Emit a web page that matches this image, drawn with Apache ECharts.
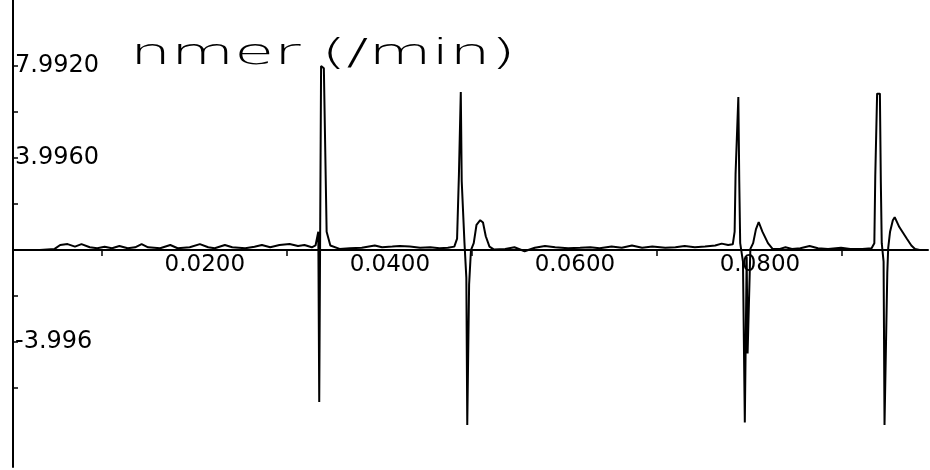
<!DOCTYPE html>
<html>
<head>
<meta charset="utf-8">
<script src="https://cdn.jsdelivr.net/npm/echarts@6/dist/echarts.min.js"></script>
<style>
  html, body { margin: 0; padding: 0; background: #fff; }
  #chart { width: 930px; height: 470px; }
</style>
</head>
<body>
<div id="chart"></div>
<script>
// Trace samples: time (s) and amplitude
const timeS = [
  -0.0096, -0.0067, -0.0051, -0.0045, -0.0037, -0.0029, -0.0022, -0.0013, -0.0005, 0.0003,
  0.0011, 0.0019, 0.0028, 0.0036, 0.0043, 0.0050, 0.0063, 0.0074, 0.0082, 0.0095,
  0.0106, 0.0115, 0.0122, 0.0133, 0.0141, 0.0155, 0.0165, 0.0173, 0.0182, 0.0192,
  0.0203, 0.0212, 0.0219, 0.0227, 0.0231,
  0.0234, 0.0235, 0.0237, 0.0240, 0.0243, 0.0247,
  0.0257, 0.0268, 0.0281, 0.0295, 0.0303, 0.0314, 0.0322, 0.0333, 0.0344, 0.0355,
  0.0365, 0.0374, 0.0381,
  0.0384, 0.0386, 0.0388, 0.0389, 0.0392, 0.0394, 0.0395, 0.0397, 0.0399, 0.0402,
  0.0405, 0.0409, 0.0412, 0.0415, 0.0419, 0.0424,
  0.0436, 0.0446, 0.0457, 0.0468, 0.0479, 0.0490, 0.0504, 0.0517, 0.0528, 0.0538,
  0.0551, 0.0562, 0.0573, 0.0584, 0.0595, 0.0609, 0.0620, 0.0630, 0.0641, 0.0652,
  0.0663, 0.0670, 0.0677, 0.0682,
  0.0684, 0.0685, 0.0688, 0.0689, 0.0690, 0.0693, 0.0695, 0.0697, 0.0698, 0.0701,
  0.0704, 0.0707, 0.0710, 0.0714, 0.0720, 0.0725,
  0.0733, 0.0739, 0.0746, 0.0755, 0.0765, 0.0774, 0.0785, 0.0799, 0.0809, 0.0822,
  0.0832,
  0.0835, 0.0836, 0.0838, 0.0841, 0.0842, 0.0843, 0.0845, 0.0846, 0.0849, 0.0850,
  0.0852, 0.0855, 0.0857, 0.0862, 0.0866, 0.0870, 0.0875, 0.0879, 0.0884, 0.0892
];
const amplitude = [
  0.00, 0.00, 0.05, 0.22, 0.26, 0.15, 0.26, 0.12, 0.08, 0.14,
  0.08, 0.18, 0.08, 0.12, 0.26, 0.12, 0.08, 0.22, 0.08, 0.12,
  0.26, 0.12, 0.08, 0.22, 0.12, 0.08, 0.14, 0.22, 0.12, 0.22,
  0.26, 0.18, 0.22, 0.12, 0.20,
  0.80, -6.60, 8.00, 7.90, 0.80, 0.20,
  0.05, 0.08, 0.10, 0.20, 0.12, 0.15, 0.18, 0.15, 0.10, 0.12,
  0.08, 0.10, 0.15,
  0.50, 3.30, 6.87, 3.00, 0.30, -1.20, -7.60, -1.50, 0.00, 0.30,
  1.10, 1.30, 1.20, 0.60, 0.15, 0.02,
  0.05, 0.12, -0.05, 0.10, 0.18, 0.12, 0.08, 0.10, 0.12, 0.08,
  0.15, 0.10, 0.20, 0.10, 0.15, 0.10, 0.12, 0.18, 0.12, 0.15,
  0.20, 0.28, 0.22, 0.25,
  0.80, 3.30, 6.65, 3.00, 0.30, -0.50, -7.50, -0.30, -4.50, 0.05,
  0.30, 0.90, 1.22, 0.80, 0.30, 0.05,
  0.05, 0.12, 0.05, 0.08, 0.18, 0.08, 0.05, 0.10, 0.05, 0.05,
  0.08,
  0.30, 3.20, 6.80, 6.80, 3.00, 0.30, -0.50, -7.60, -1.00, 0.10,
  0.80, 1.30, 1.43, 1.00, 0.75, 0.50, 0.20, 0.05, 0.00, 0.00
];

// Axis ticks and labels
const xTickValues = [0, 0.02, 0.04, 0.06, 0.08];
const xLabelValues = [0.02, 0.04, 0.06, 0.08];
const xLabelTexts = ['0.0200', '0.0400', '0.0600', '0.0800'];
const yTickValues = [-5.994, -3.996, -1.998, 1.998, 3.996, 5.994, 7.992];
const yLabelValues = [7.992, 3.996, -3.996];
const yLabelTexts = ['7.9920', '3.9960', '-3.996'];
const titleText = 'nmer (/min)';

const yMin = -9.43;
const yMax = 10.87;
const gridTop = 0;
const gridHeight = 467;

const points = timeS.map((t, i) => [t, amplitude[i]]);

function lookup(values, texts, v) {
  for (let i = 0; i < values.length; i++) {
    if (Math.abs(values[i] - v) < 1e-6) return texts[i];
  }
  return '';
}

// The time axis sits on the zero line: shift it up from the grid bottom
const zeroShift = gridHeight * (0 - yMin) / (yMax - yMin);

const chart = echarts.init(document.getElementById('chart'), null, { renderer: 'canvas' });
const font = 'DejaVu Sans';

chart.setOption({
  animation: false,
  backgroundColor: '#ffffff',
  grid: { left: 13, right: 2, top: gridTop, height: gridHeight, containLabel: false, outerBoundsMode: 'none' },
  xAxis: {
    type: 'value',
    position: 'bottom',
    offset: -zeroShift,
    min: -0.0096,
    max: 0.0893,
    splitLine: { show: false },
    axisLine: { show: true, onZero: false, lineStyle: { color: '#000', width: 2 } },
    axisTick: { show: true, customValues: xTickValues, length: 6, lineStyle: { color: '#000', width: 1.5 } },
    axisLabel: {
      show: true,
      customValues: xLabelValues,
      formatter: v => lookup(xLabelValues, xLabelTexts, v),
      color: '#000',
      fontFamily: font,
      fontSize: 23,
      margin: 3,
      align: 'center',
      padding: [0, 164, 0, 0]
    }
  },
  yAxis: {
    type: 'value',
    min: yMin,
    max: yMax,
    splitLine: { show: false },
    axisLine: { show: true, onZero: false, lineStyle: { color: '#000', width: 2 } },
    axisTick: { show: true, inside: true, customValues: yTickValues, length: 5, lineStyle: { color: '#000', width: 1.5 } },
    axisLabel: {
      show: true,
      inside: true,
      customValues: yLabelValues,
      formatter: v => lookup(yLabelValues, yLabelTexts, v),
      color: '#000',
      fontFamily: font,
      fontSize: 24,
      margin: 2
    }
  },
  graphic: [{
    type: 'text',
    x: 130,
    y: 37,
    scaleX: 1.8,
    style: {
      text: titleText,
      fill: '#000',
      font: '200 36px "DejaVu Sans"'
    }
  }],
  series: [{
    type: 'line',
    data: points,
    showSymbol: false,
    lineStyle: { color: '#000', width: 2 },
    z: 3
  }]
});
</script>
</body>
</html>
